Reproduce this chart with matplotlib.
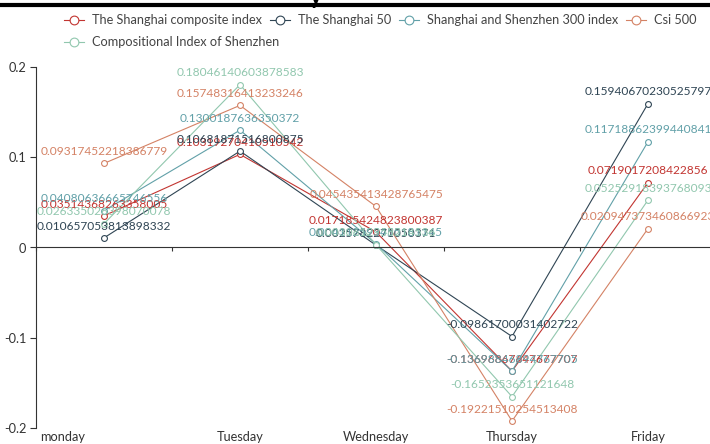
import matplotlib
matplotlib.use("Agg")
import matplotlib.pyplot as plt
from matplotlib.lines import Line2D
import matplotlib.transforms as mtransforms

plt.rcParams['font.family'] = ['Lato', 'DejaVu Sans']

days = ["monday", "Tuesday", "Wednesday", "Thursday", "Friday"]
series_names = [
    "The Shanghai composite index",
    "The Shanghai 50",
    "Shanghai and Shenzhen 300 index",
    "Csi 500",
    "Compositional Index of Shenzhen",
]
composite = [0.03514368263358005, 0.10319270410510542, 0.017185424823800387,
             -0.13696867647677708, 0.0719017208422856]
sh50 = [0.010657053813898332, 0.10681871516800876, 0.0025782271050371,
        -0.09861700031402722, 0.15940670230525797]
hs300 = [0.040806366657465556, 0.1300187636350372, 0.004112593455181145,
         -0.13698846894767705, 0.11718862399440841]
csi500 = [0.09317452218386779, 0.15748316413233246, 0.045435413428765475,
          -0.19221510254513408, 0.020947373460866923]
szci = [0.026335026398070078, 0.18046140603878583, 0.0030612958214536,
        -0.1652353651121648, 0.05252918393768093]
y_ticks = [-0.2, -0.1, 0, 0.1, 0.2]
y_tick_labels = ["-0.2", "-0.1", "0", "0.1", "0.2"]

colors = ['#c23531', '#2f4554', '#61a0a8', '#d48265', '#91c7ae']
all_series = [composite, sh50, hs300, csi500, szci]
axis_color = '#333333'
text_color = '#333333'

W, H = 710, 444
fig = plt.figure(figsize=(W / 100, H / 100), dpi=100)
ax = fig.add_axes([36 / W, 16 / H, 680 / W, 361 / H])

x = list(range(len(days)))
handles = []
for vals, col, name in zip(all_series, colors, series_names):
    h, = ax.plot(x, vals, color=col, lw=0.8, marker='o', markersize=4.2,
                 markerfacecolor='white', markeredgecolor=col,
                 markeredgewidth=0.8, label=name, clip_on=False)
    handles.append(h)

# value labels above each point
for vals, col in zip(all_series, colors):
    for xi, v in zip(x, vals):
        ax.annotate(repr(v), xy=(xi, v), xytext=(0, 4.5),
                    textcoords='offset points', ha='center', va='bottom',
                    fontsize=8.6, color=col, zorder=10, annotation_clip=False)

ax.set_xlim(-0.5, len(days) - 0.5)
ax.set_ylim(-0.2, 0.2)

for s in ['top', 'right']:
    ax.spines[s].set_visible(False)
ax.spines['left'].set_color(axis_color)
ax.spines['left'].set_linewidth(0.8)
ax.spines['bottom'].set_position(('data', 0))
ax.spines['bottom'].set_color(axis_color)
ax.spines['bottom'].set_linewidth(0.8)

ax.set_yticks(y_ticks)
ax.set_yticklabels(y_tick_labels)
ax.tick_params(axis='y', direction='out', length=4, width=0.8,
               color=axis_color, labelcolor=text_color, labelsize=9.2, pad=3)

# band boundaries on the zero line
ax.set_xticks([i - 0.5 for i in range(len(days) + 1)])
ax.tick_params(axis='x', direction='out', length=3, width=0.8,
               color=axis_color, labelbottom=False)

# category labels along the bottom edge
btrans = mtransforms.blended_transform_factory(ax.transData, ax.transAxes)
for i, d in enumerate(days):
    dx = -30 if i == 0 else 0
    ax.annotate(d, xy=(i, 0), xycoords=btrans, xytext=(dx, -2),
                textcoords='offset points', ha='center', va='top',
                fontsize=9.2, color=text_color, annotation_clip=False)

# legend: four entries in the first row, one in the second
leg_kw = dict(frameon=False, fontsize=9.2, handlelength=1.6,
              handletextpad=0.6, columnspacing=0.6, labelcolor='#444444',
              borderaxespad=0, borderpad=0, markerscale=1.5)
leg1 = fig.legend(handles[:4], series_names[:4], ncol=4,
                  loc='center left', bbox_to_anchor=(64 / W, 1 - 20 / H), **leg_kw)
leg2 = fig.legend(handles[4:], series_names[4:], ncol=1,
                  loc='center left', bbox_to_anchor=(64 / W, 1 - 42 / H), **leg_kw)

# header rule and clipped heading glyph
fig.add_artist(Line2D([0, 1], [1 - 5 / H, 1 - 5 / H], transform=fig.transFigure,
                      color='black', lw=3))
fig.text(316 / W, 1 - 4 / H, "y", fontsize=16, fontweight='bold',
         ha='center', va='baseline', color='black')

fig.savefig("out.png", dpi=100)
